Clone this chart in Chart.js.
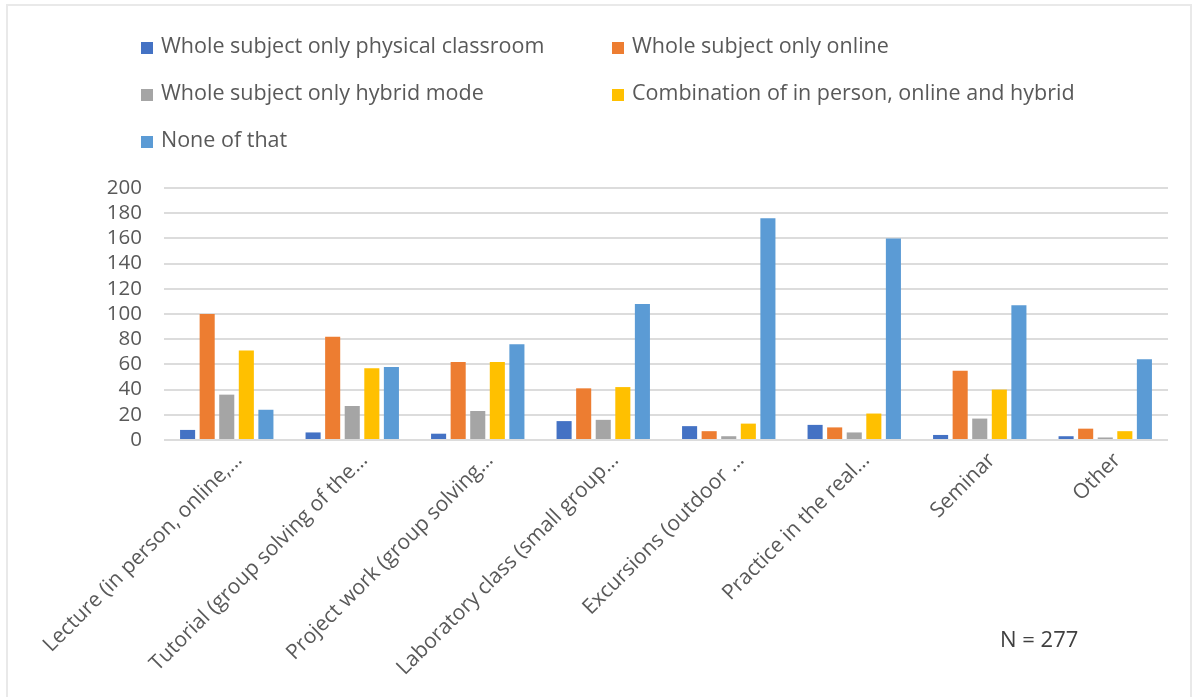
<!DOCTYPE html>
<html>
<head>
<meta charset="utf-8">
<script src="https://cdn.jsdelivr.net/npm/chart.js@4.4.1/dist/chart.umd.min.js"></script>
<style>
  html, body { margin: 0; padding: 0; background: #fff; }
  #wrap { position: relative; width: 1195px; height: 697px; overflow: hidden; font-family: "Open Sans", sans-serif; }
  #frame { position: absolute; left: 6px; top: 4px; width: 1186px; height: 760px; border: 2px solid #e9e9e9; box-sizing: border-box; }
  #chart { position: absolute; left: 0; top: 0; }
  .lg { position: absolute; font-size: 21.5px; color: #595959; white-space: nowrap; line-height: 24px; }
  .lg span.sw { display: inline-block; width: 12px; height: 12px; margin-right: 8px; vertical-align: -1px; }
  #ntext { position: absolute; left: 1000px; top: 623px; font-size: 22px; color: #404040; }
</style>
</head>
<body>
<div id="wrap">
  <div id="frame"></div>
  <canvas id="chart" width="1195" height="697"></canvas>
  <div id="legend"></div>
  <div id="ntext">N = 277</div>
</div>
<script>
const categories = [
  "Lecture (in person, online,\u2026",
  "Tutorial (group solving of the\u2026",
  "Project work (group solving\u2026",
  "Laboratory class (small group\u2026",
  "Excursions (outdoor \u2026",
  "Practice in the real\u2026",
  "Seminar",
  "Other"
];
const seriesNames = [
  "Whole subject only physical classroom",
  "Whole subject only online",
  "Whole subject only hybrid mode",
  "Combination of in person, online and hybrid",
  "None of that"
];
const physicalClassroom = [8, 6, 5, 15, 11, 12, 4, 3];
const onlineOnly        = [100, 82, 62, 41, 7, 10, 55, 9];
const hybridOnly        = [36, 27, 23, 16, 3, 6, 17, 2];
const combination       = [71, 57, 62, 42, 13, 21, 40, 7];
const noneOfThat        = [24, 58, 76, 108, 176, 160, 107, 64];
const yTicks = [0, 20, 40, 60, 80, 100, 120, 140, 160, 180, 200];
const nLabel = "N = 277";

const colors = ["#4472C4", "#ED7D31", "#A5A5A5", "#FFC000", "#5B9BD5"];
const seriesValues = [physicalClassroom, onlineOnly, hybridOnly, combination, noneOfThat];

// HTML legend in two columns
const legendEl = document.getElementById('legend');
const legendPos = [[141, 33], [612, 33], [141, 80], [612, 80], [141, 127]];
seriesNames.forEach((name, i) => {
  const d = document.createElement('div');
  d.className = 'lg';
  d.style.left = legendPos[i][0] + 'px';
  d.style.top = legendPos[i][1] + 'px';
  const sw = document.createElement('span');
  sw.className = 'sw';
  sw.style.background = colors[i];
  d.appendChild(sw);
  d.appendChild(document.createTextNode(name));
  legendEl.appendChild(d);
});
document.getElementById('ntext').textContent = nLabel;

const datasets = seriesNames.map((name, i) => ({
  label: name,
  data: seriesValues[i],
  backgroundColor: colors[i],
  borderWidth: 0,
  barPercentage: 0.77,
  categoryPercentage: 0.78
}));

new Chart(document.getElementById('chart'), {
  type: 'bar',
  data: { labels: categories, datasets },
  options: {
    responsive: false,
    animation: false,
    devicePixelRatio: 1,
    layout: { padding: { top: 188, right: 27, bottom: 0, left: 0 } },
    plugins: { legend: { display: false }, tooltip: { enabled: false } },
    scales: {
      x: {
        grid: { display: false },
        border: { display: false },
        ticks: {
          autoSkip: false,
          maxRotation: 45,
          minRotation: 45,
          color: '#595959',
          padding: 0,
          labelOffset: 12,
          font: { family: 'Open Sans', size: 21 }
        },
        afterFit: (s) => { s.height = 257; }
      },
      y: {
        min: 0,
        max: 200,
        afterBuildTicks: (s) => { s.ticks = yTicks.map(v => ({ value: v })); },
        grid: { color: '#dcdcdc', lineWidth: 2, drawTicks: false },
        border: { display: false },
        ticks: {
          autoSkip: false,
          color: '#595959',
          padding: 22,
          font: { family: 'Open Sans', size: 20.5 }
        },
        afterFit: (s) => { s.width = 164; }
      }
    }
  }
});
</script>
</body>
</html>
